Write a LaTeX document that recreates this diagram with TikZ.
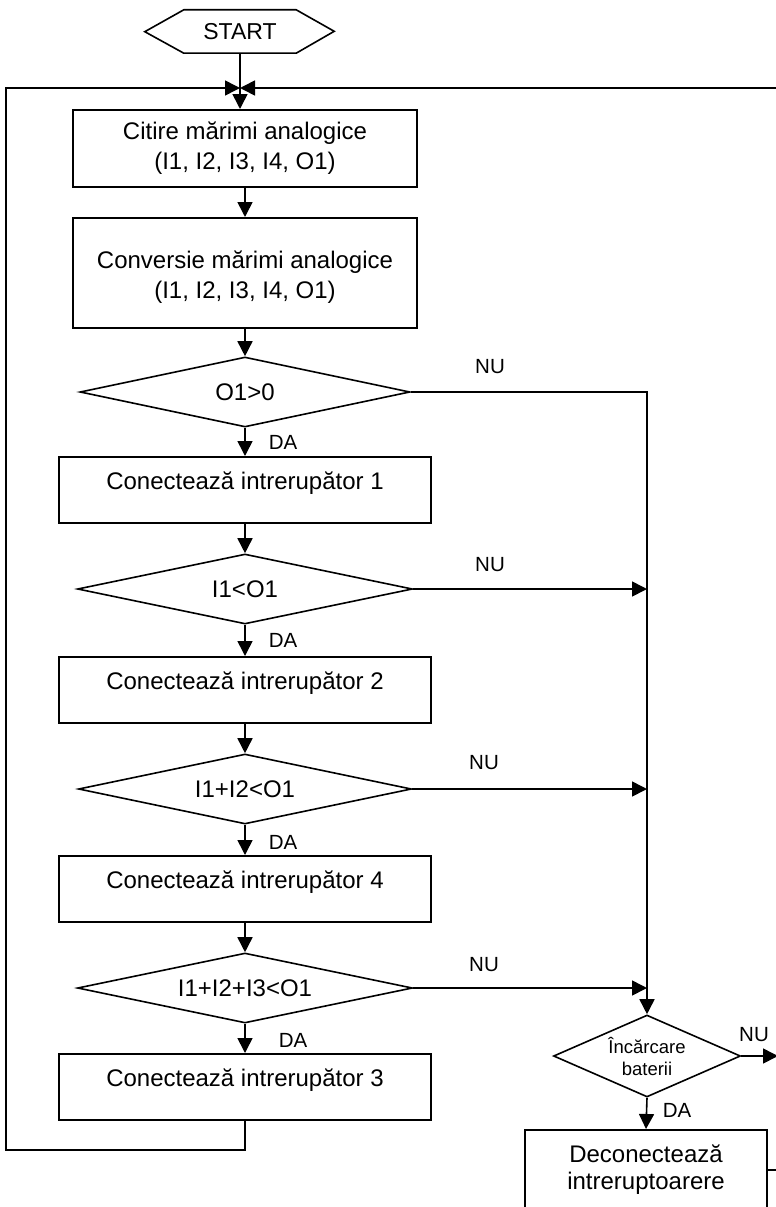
\documentclass[tikz,border=0pt]{standalone}
\usepackage{fontspec}
\setmainfont{Liberation Sans}
\usetikzlibrary{shapes.geometric,arrows.meta}
\begin{document}
\begin{tikzpicture}[x=1pt,y=-1pt,
  every node/.style={font=\fontsize{24}{30}\selectfont, inner sep=0pt},
  box/.style={draw, line width=2pt, minimum width=344pt},
  cbox/.style={draw, line width=2pt, minimum width=372pt, minimum height=66pt},
  dia/.style={diamond, draw, line width=1.6pt, aspect=4.8},
  ln/.style={line width=1.6pt},
  arr/.style={line width=1.6pt, -{Triangle[length=15pt,width=15pt]}},
  lbl/.style={font=\fontsize{20.5}{24}\selectfont}
]
\clip (0,0) rectangle (776,1207);
\fill[white] (0,0) rectangle (776,1207);

% START
\node[minimum width=112pt, minimum height=43pt, font=\fontsize{23}{27}\selectfont] (start) at (240,31.5) {START};
\draw[ln] (start.north west) -- (start.north east) -- ++(38,21.5) -- (start.south east)
  -- (start.south west) -- ++(-39,-21.5) -- cycle;

% main column
\node[box, minimum height=77pt, align=center] (box1) at (245,148.5) {Citire mărimi analogice\\(I1, I2, I3, I4, O1)};
\node[box, minimum height=110pt] (box2) at (245,273) {};
\node[align=center] (box2t) at ([yshift=-4pt]box2.center) {Conversie mărimi analogice\\(I1, I2, I3, I4, O1)};

\node[dia, minimum width=330pt, minimum height=70pt] (d1) at (245,392) {O1>0};
\node[cbox] (c1) at (245,490) {};
\node (c1t) at ([yshift=7pt]c1.center) {Conectează intrerupător 1};
\node[dia, minimum width=335pt, minimum height=70pt] (d2) at (245,589) {I1<O1};
\node[cbox] (c2) at (245,690) {};
\node (c2t) at ([yshift=7pt]c2.center) {Conectează intrerupător 2};
\node[dia, minimum width=333pt, minimum height=70pt] (d3) at (245,789) {I1+I2<O1};
\node[cbox] (c4) at (245,889) {};
\node (c4t) at ([yshift=7pt]c4.center) {Conectează intrerupător 4};
\node[dia, minimum width=335pt, minimum height=70pt] (d4) at (245,988) {I1+I2+I3<O1};
\node[cbox] (c3) at (245,1087) {};
\node (c3t) at ([yshift=7pt]c3.center) {Conectează intrerupător 3};

% right column
\node[diamond, draw, line width=1.6pt, aspect=2.28, minimum width=187pt, minimum height=82pt,
  align=center, font=\fontsize{18.5}{22}\selectfont] (inc) at (647,1056) {Încărcare\\baterii};
\node[draw, line width=2pt, minimum width=242pt, minimum height=80pt, align=center,
  font=\fontsize{24}{27}\selectfont] (dec) at (646,1170) {Deconectează\\intreruptoarere};

% coordinates
\coordinate (m) at (240,88);
\coordinate (lb) at (6,1150);
\coordinate (lt) at (6,88);
\coordinate (rt) at (780,88);
\coordinate (rc) at (647,392);
\coordinate (ne) at (778,1056);
\coordinate (de) at (780,1170);

% connectors
\draw[arr] (start.south) -- (start.south |- box1.north);
\draw[arr] (c3.south) |- (lb) -- (lt) -- (m);
\draw[arr] (rt) -- (m);
\draw[arr] (box1.south) -- (box2.north);
\draw[arr] (box2.south) -- (d1.north);
\draw[arr] (d1.south) -- (c1.north);
\draw[arr] (c1.south) -- (d2.north);
\draw[arr] (d2.south) -- (c2.north);
\draw[arr] (c2.south) -- (d3.north);
\draw[arr] (d3.south) -- (c4.north);
\draw[arr] (c4.south) -- (d4.north);
\draw[arr] (d4.south) -- (c3.north);

\draw[arr] (d1.east) -- (rc) -- (inc.north);
\draw[arr] (d2.east) -- (d2.east -| rc);
\draw[arr] (d3.east) -- (d3.east -| rc);
\draw[arr] (d4.east) -- (d4.east -| rc);
\draw[arr] (inc.east) -- (ne);
\draw[arr] (inc.south) -- (dec.north);
\draw[ln] (dec.east) -- (de);

% labels
\node[lbl] (nu1) at (490,367) {NU};
\node[lbl] (nu2) at (490,565) {NU};
\node[lbl] (nu3) at (484,763) {NU};
\node[lbl] (nu4) at (484,965) {NU};
\node[lbl] (nu5) at (754,1035) {NU};
\node[lbl] (da1) at (283,442) {DA};
\node[lbl] (da2) at (283,640) {DA};
\node[lbl] (da3) at (283,842) {DA};
\node[lbl] (da4) at (293,1040) {DA};
\node[lbl] (da5) at (677,1110) {DA};
\end{tikzpicture}
\end{document}
